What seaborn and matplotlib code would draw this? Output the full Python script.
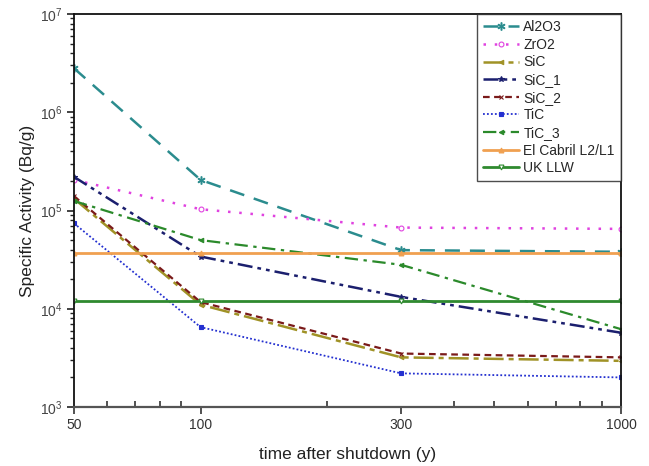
import matplotlib
matplotlib.use("Agg")
import matplotlib.pyplot as plt
import matplotlib.ticker as mticker
import numpy as np
import pandas as pd
import seaborn as sns

# Decay times after shutdown (years)
years = [50, 100, 300, 1000]

# Specific activity of each material (Bq/g)
al2o3 = [2.8e6, 2.05e5, 3.95e4, 3.8e4]
zro2 = [2.05e5, 1.03e5, 6.7e4, 6.5e4]
sic = [1.32e5, 1.1e4, 3.2e3, 2.95e3]
sic_1 = [2.2e5, 3.4e4, 1.32e4, 5.7e3]
sic_2 = [1.4e5, 1.17e4, 3.5e3, 3.2e3]
tic = [7.4e4, 6.5e3, 2.2e3, 2.0e3]
tic_3 = [1.25e5, 5.0e4, 2.8e4, 6.2e3]

# Disposal limits (Bq/g)
el_cabril = [3.7e4, 3.7e4, 3.7e4, 3.7e4]
uk_llw = [1.2e4, 1.2e4, 1.2e4, 1.2e4]

x_ticks = [50, 100, 300, 1000]

series = [
    ("Al2O3", al2o3, "#2b8c8e", (0, (6, 4)), "$\\ast$", 5.5, 1.8),
    ("ZrO2", zro2, "#e042e0", (0, (1, 3.5)), "o", 3.5, 1.8),
    ("SiC", sic, "#a09226", (0, (8, 2, 2, 2)), "<", 3.2, 1.8),
    ("SiC_1", sic_1, "#1b1f6e", (0, (6, 2, 1.5, 2, 1.5, 2)), "*", 4, 1.8),
    ("SiC_2", sic_2, "#7a1a1a", (0, (3, 2)), "x", 3.2, 1.6),
    ("TiC", tic, "#2430d0", (0, (1, 1.2)), "s", 3, 1.3),
    ("TiC_3", tic_3, "#2b8a2b", (0, (6, 2.5, 1.5, 2.5)), "<", 3.2, 1.6),
    ("El Cabril L2/L1", el_cabril, "#f0a050", "-", "^", 3.5, 2.0),
    ("UK LLW", uk_llw, "#2f8a2f", "-", "v", 3.5, 2.0),
]

sns.set_style("white")
plt.rcParams["font.family"] = ["Liberation Sans", "DejaVu Sans"]
plt.rcParams["mathtext.fontset"] = "custom"
plt.rcParams["mathtext.rm"] = "Liberation Sans"
plt.rcParams["mathtext.it"] = "Liberation Sans"

fig = plt.figure(figsize=(6.49, 4.66), dpi=100)
ax = fig.add_axes([74 / 649, 59 / 466, 547 / 649, 393 / 466])

for name, vals, color, ls, marker, ms, lw in series:
    df = pd.DataFrame({"t": years, "a": vals})
    mfc = "white" if marker in ("o", "v") else color
    sns.lineplot(data=df, x="t", y="a", ax=ax, label=name, color=color,
                 linestyle=ls, linewidth=lw, marker=marker, markersize=ms,
                 markerfacecolor=mfc, markeredgecolor=color, markeredgewidth=0.8)

ax.set_xscale("log")
ax.set_yscale("log")
ax.set_xlim(50, 1000)
ax.set_ylim(1e3, 1e7)

ax.xaxis.set_major_locator(mticker.FixedLocator(x_ticks))
ax.xaxis.set_major_formatter(mticker.FixedFormatter([str(v) for v in x_ticks]))
ax.xaxis.set_minor_locator(mticker.LogLocator(base=10, subs=np.arange(2, 10)))
ax.xaxis.set_minor_formatter(mticker.NullFormatter())
ax.yaxis.set_major_locator(mticker.LogLocator(base=10, numticks=10))
ax.yaxis.set_minor_locator(mticker.LogLocator(base=10, subs=np.arange(2, 10), numticks=10))
ax.yaxis.set_minor_formatter(mticker.NullFormatter())

ax.tick_params(which="both", bottom=True, left=True, top=False, right=False)
ax.tick_params(axis="x", which="major", direction="out", length=5, width=1.2,
               labelsize=10, labelcolor="#333333", color="#333333", pad=3)
ax.tick_params(axis="x", which="minor", direction="in", length=4, width=1.2,
               color="#333333")
ax.tick_params(axis="y", which="major", direction="out", length=5, width=1.2,
               labelsize=10, labelcolor="#444444", color="#222222")
ax.tick_params(axis="y", which="minor", direction="out", length=3, width=1.0,
               color="#222222")

for side in ["left", "right", "top"]:
    ax.spines[side].set_color("#111111")
    ax.spines[side].set_linewidth(1.3)
ax.spines["bottom"].set_color("#555555")
ax.spines["bottom"].set_linewidth(1.6)

ax.set_xlabel("time after shutdown (y)", fontsize=12.5, color="#222222", labelpad=10.5)
ax.set_ylabel("Specific Activity (Bq/g)", fontsize=12.5, color="#222222", labelpad=3)

leg = ax.legend(loc="upper right", bbox_to_anchor=(1.0, 1.0), frameon=True,
                fancybox=False, edgecolor="#222222", fontsize=10,
                handlelength=2.6, handletextpad=0.3, labelspacing=0.26,
                borderpad=0.45, borderaxespad=0.0)
leg.get_frame().set_linewidth(1.0)

fig.savefig("out.png", dpi=100)
